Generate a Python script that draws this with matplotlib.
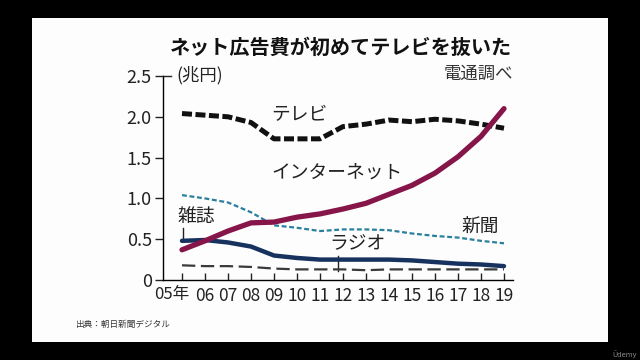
import matplotlib
matplotlib.use("Agg")
import matplotlib.pyplot as plt
from matplotlib.patches import Rectangle

plt.rcParams['font.family'] = ['Noto Sans CJK JP', 'DejaVu Sans']

# data (trillion yen), Dentsu survey
years = list(range(2005, 2020))
tv = [2.04, 2.02, 2.00, 1.93, 1.73, 1.73, 1.73, 1.88, 1.91, 1.96, 1.94, 1.97, 1.95, 1.91, 1.86]
internet = [0.37, 0.48, 0.60, 0.70, 0.71, 0.77, 0.81, 0.87, 0.94, 1.05, 1.16, 1.31, 1.51, 1.76, 2.10]
newspaper = [1.04, 1.00, 0.95, 0.83, 0.67, 0.64, 0.60, 0.62, 0.62, 0.61, 0.57, 0.54, 0.52, 0.48, 0.45]
magazine = [0.48, 0.49, 0.46, 0.41, 0.30, 0.27, 0.25, 0.25, 0.25, 0.25, 0.24, 0.22, 0.20, 0.19, 0.17]
radio = [0.18, 0.17, 0.17, 0.16, 0.14, 0.13, 0.13, 0.13, 0.12, 0.13, 0.13, 0.13, 0.13, 0.13, 0.13]
first_label = '05年'
xlabels = [''] + ['%02d' % (y % 100) for y in years[1:]]
yticks = [0, 0.5, 1.0, 1.5, 2.0, 2.5]
ylabels = ['0', '0.5', '1.0', '1.5', '2.0', '2.5']

W, H = 640, 360
fig = plt.figure(figsize=(6.4, 3.6), dpi=100, facecolor='black')
fig.patches.append(Rectangle((32 / W, 1 - 342 / H), 576 / W, 324 / H,
                             transform=fig.transFigure, facecolor='#fdfdfd',
                             edgecolor='none', zorder=-10))

ax = fig.add_axes([163 / W, 1 - 280 / H, 350 / W, 204 / H])
ax.set_facecolor('none')

ax.plot(years, radio, color='#3a3a3a', lw=1.6, dashes=(6, 2.5), zorder=3)
ax.plot(years, newspaper, color='#2a7f9e', lw=1.6, dashes=(2.2, 1.2), zorder=3)
ax.plot(years, magazine, color='#17325f', lw=3.2, solid_capstyle='round', zorder=4)
ax.plot(years, internet, color='#86164a', lw=3.8, solid_capstyle='round', zorder=5)
ax.plot(years, tv, color='#111111', lw=3.6, dashes=(2.0, 0.7), zorder=4)

ax.set_xlim(2005 - 19 / 23, 2019 + 9 / 23)
ax.set_ylim(0, 2.5)
ax.set_xticks(years)
ax.set_xticklabels(xlabels)
ax.set_yticks(yticks)
ax.set_yticklabels(ylabels)

for s in ['top', 'right']:
    ax.spines[s].set_visible(False)
ax.spines['left'].set_bounds(0, 2.5)
ax.spines['left'].set_linewidth(1.0)
ax.spines['bottom'].set_linewidth(1.0)
ax.tick_params(axis='y', direction='out', length=6, width=1.0, pad=2,
               labelsize=13, colors='#222222')
ax.tick_params(axis='x', direction='in', length=5, width=1.0, pad=5,
               labelsize=12.5, colors='#222222')
for lab in ax.get_xticklabels() + ax.get_yticklabels():
    lab.set_family(['Liberation Sans Narrow', 'Noto Sans CJK JP'])

# first year label sits left of its tick
ax.text(years[0] + 0.3, -0.03, first_label, transform=ax.get_xaxis_transform(),
        fontsize=12, ha='right', va='top', color='#222222')

# hook at top of y axis
ax.plot([2005 - 19 / 23, 2005 - 11 / 23], [2.5, 2.5], color='#222222', lw=1.0,
        clip_on=False)

lab_kw = dict(fontsize=13.5, color='#222222', va='center', ha='left')
ax.text(8.9 + 2000, 2.03, 'テレビ', **lab_kw)
ax.text(8.9 + 2000, 1.32, 'インターネット', **lab_kw)
ax.text(17.15 + 2000, 0.64, '新聞', **lab_kw)
ax.text(4.8 + 2000, 0.78, '雑誌', **lab_kw)
ax.text(11.4 + 2000, 0.45, 'ラジオ', **lab_kw)
ax.plot([2005.05, 2005.05], [0.64, 0.49], color='#222222', lw=1.0)
ax.plot([2011.78, 2011.78], [0.30, 0.11], color='#222222', lw=1.0)

fig.text(341 / W, 1 - 47 / H, 'ネット広告費が初めてテレビを抜いた', fontsize=14.5,
         fontweight='bold', ha='center', va='center', color='#111111')
fig.text(176 / W, 1 - 75 / H, '(兆円)', fontsize=12.5, ha='left', va='center',
         color='#222222')
fig.text(513 / W, 1 - 74 / H, '電通調べ', fontsize=12.5, ha='right', va='center',
         color='#333333')
fig.text(75 / W, 1 - 324 / H, '出典：朝日新聞デジタル', fontsize=6.2, ha='left',
         va='center', color='#333333')
fig.text(625 / W, 1 - 354 / H, 'Ūdemy', fontsize=5, ha='center', va='center',
         color='#888888', family=['DejaVu Sans'])

fig.savefig('out.png', dpi=100, facecolor='black')
